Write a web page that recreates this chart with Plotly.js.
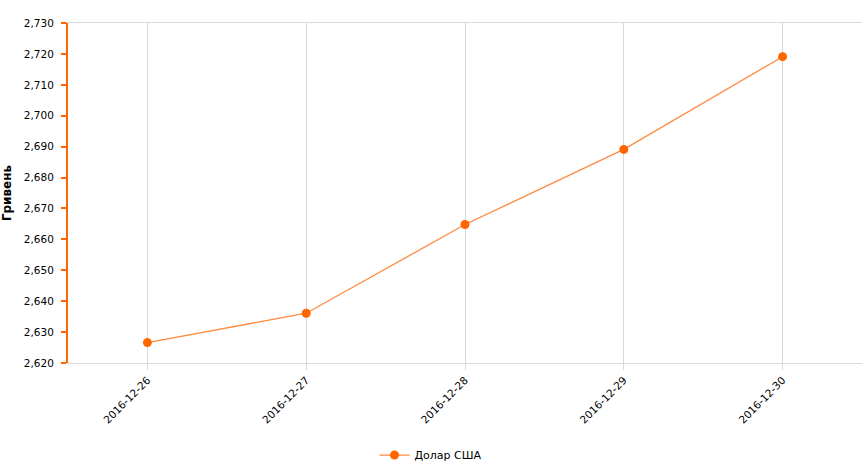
<!DOCTYPE html>
<html>
<head>
<meta charset="utf-8">
<script src="https://cdn.plot.ly/plotly-3.0.1.min.js"></script>
<style>html,body{margin:0;padding:0;background:#fff;}#chart{width:862px;height:475px;}</style>
</head>
<body>
<div id="chart"></div>
<script>
const dates = ["2016-12-26", "2016-12-27", "2016-12-28", "2016-12-29", "2016-12-30"];
const usdRates = [2.6266, 2.6361, 2.6648, 2.6891, 2.7191];
const seriesName = "Долар США";
const yTitle = "Гривень";

const trace = {
  x: dates,
  y: usdRates,
  type: "scatter",
  mode: "lines+markers",
  name: seriesName,
  line: {color: "#ff8a3d", width: 1.3},
  marker: {color: "#ff6600", size: 9}
};

const layout = {
  width: 862,
  height: 475,
  margin: {l: 68, r: 0, t: 23, b: 112, autoexpand: false},
  paper_bgcolor: "#ffffff",
  plot_bgcolor: "#ffffff",
  separators: ",.",
  font: {family: "DejaVu Sans, Verdana, sans-serif", size: 10.5, color: "#000"},
  showlegend: true,
  legend: {orientation: "h", xref: "container", yref: "container", x: 0.5, xanchor: "center", y: 0.042, yanchor: "middle", font: {size: 11}},
  xaxis: {
    type: "category",
    range: [-0.5, 4.5],
    showgrid: true,
    gridcolor: "#d9d9d9",
    showline: true,
    linecolor: "#d9d9d9",
    linewidth: 1,
    mirror: true,
    ticks: "outside",
    ticklen: 6,
    tickcolor: "#d9d9d9",
    tickangle: -45,
    zeroline: false
  },
  yaxis: {
    range: [2.62, 2.73],
    dtick: 0.01,
    tick0: 2.62,
    tickformat: ".3f",
    showgrid: false,
    zeroline: false,
    showline: true,
    linecolor: "#ff6600",
    linewidth: 2,
    ticks: "outside",
    ticklen: 5,
    tickcolor: "#ff6600",
    tickwidth: 2,
    ticklabelstandoff: 5,
    title: {text: "<b>" + yTitle + "</b>", font: {size: 12}, standoff: 10}
  }
};

Plotly.newPlot("chart", [trace], layout, {displayModeBar: false, staticPlot: true});
</script>
</body>
</html>
